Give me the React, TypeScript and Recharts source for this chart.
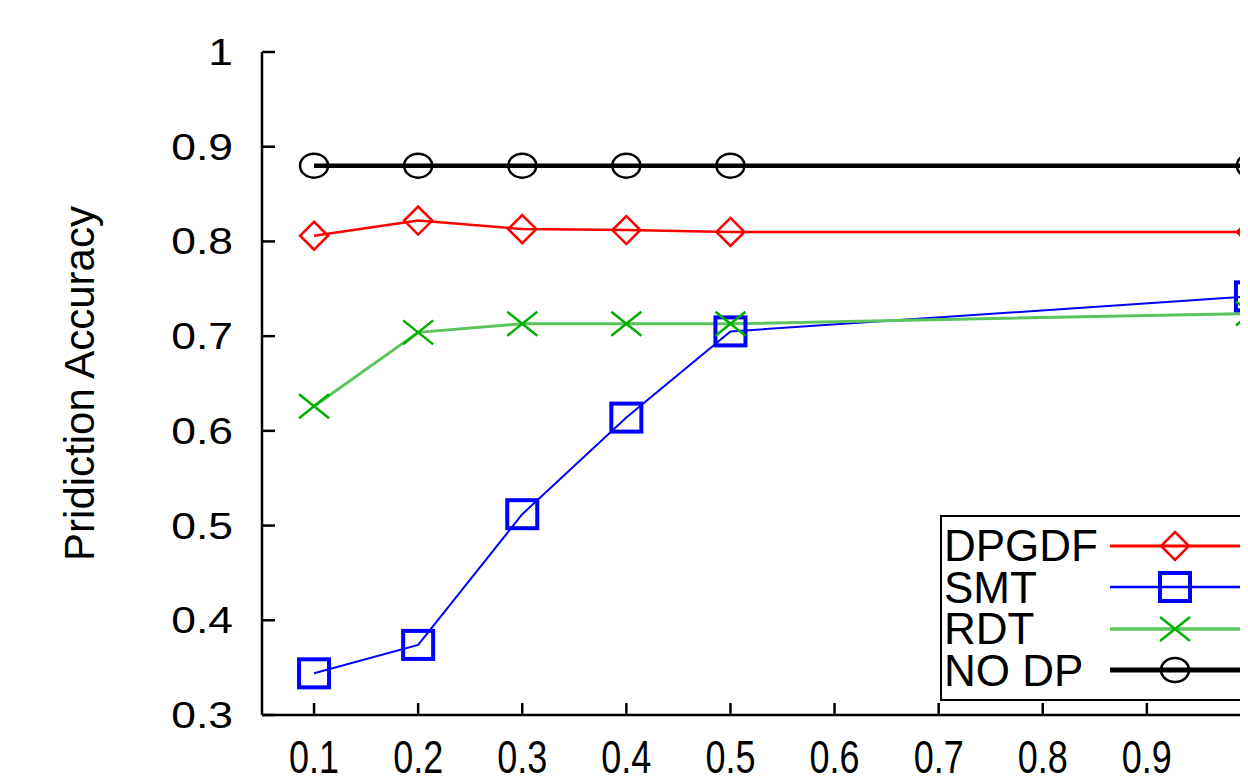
import React from 'react';
import { LineChart, Line, XAxis, YAxis, Legend } from 'recharts';

// sampling ratio on the x axis (no runs between 0.5 and 1)
const ratios = [0.1, 0.2, 0.3, 0.4, 0.5, 1.0];

// prediction accuracy per method
const dpgdf = [0.806, 0.822, 0.813, 0.812, 0.81, 0.81];
const smt = [0.344, 0.374, 0.512, 0.614, 0.705, 0.742];
const rdt = [0.626, 0.704, 0.713, 0.713, 0.713, 0.724];
const noDp = [0.88, 0.88, 0.88, 0.88, 0.88, 0.88];

const xTicks = [0.1, 0.2, 0.3, 0.4, 0.5, 0.6, 0.7, 0.8, 0.9, 1];
const yTicks = [0.3, 0.4, 0.5, 0.6, 0.7, 0.8, 0.9, 1];

const data = ratios.map((x, i) => ({
  x,
  dpgdf: dpgdf[i],
  smt: smt[i],
  rdt: rdt[i],
  noDp: noDp[i],
}));

const FONT = '"Liberation Sans", Arial, sans-serif';

const Diamond = ({ cx, cy, color }: any) => (
  <polygon
    points={`${cx},${cy - 14} ${cx + 14},${cy} ${cx},${cy + 14} ${cx - 14},${cy}`}
    fill="none"
    stroke={color}
    strokeWidth={2.5}
  />
);
const Square = ({ cx, cy, color }: any) => (
  <rect x={cx - 15} y={cy - 14} width={30} height={28} fill="none" stroke={color} strokeWidth={4} />
);
const Cross = ({ cx, cy, color }: any) => (
  <g stroke={color} strokeWidth={2.5}>
    <line x1={cx - 15} y1={cy - 12} x2={cx + 15} y2={cy + 12} />
    <line x1={cx - 15} y1={cy + 12} x2={cx + 15} y2={cy - 12} />
  </g>
);
const Circle = ({ cx, cy, color }: any) => (
  <ellipse cx={cx} cy={cy} rx={14} ry={12} fill="none" stroke={color} strokeWidth={2.5} />
);

const SERIES = [
  { key: 'dpgdf', name: 'DPGDF', color: '#ff0000', line: '#ff0000', width: 2.5, Mark: Diamond },
  { key: 'smt', name: 'SMT', color: '#0000ff', line: '#0000ff', width: 2, Mark: Square },
  { key: 'rdt', name: 'RDT', color: '#00b000', line: '#5cc45c', width: 3, Mark: Cross },
  { key: 'noDp', name: 'NO DP', color: '#000000', line: '#000000', width: 4.5, Mark: Circle },
];

const YTick = ({ x, y, payload }: any) => (
  <g>
    <text
      transform={`translate(${x},${y}) scale(1.2,1)`}
      textAnchor="end"
      dy="0.35em"
      fontSize={37}
      fontFamily={FONT}
      fill="#000"
    >
      {payload.value}
    </text>
    <line x1={x + 29} x2={x + 42} y1={y} y2={y} stroke="#000" strokeWidth={2.5} />
  </g>
);

const XTick = ({ x, y, payload }: any) => (
  <g>
    <text
      transform={`translate(${x},${y}) scale(1,1.3)`}
      textAnchor="middle"
      dy="0.35em"
      fontSize={36}
      fontFamily={FONT}
      fill="#000"
    >
      {payload.value}
    </text>
    <line x1={x} x2={x} y1={y - 42} y2={y - 54} stroke="#000" strokeWidth={2.5} />
  </g>
);

const TopTick = ({ x, y }: any) => (
  <line x1={x} x2={x} y1={y} y2={y + 12} stroke="#000" strokeWidth={2.5} />
);

const RightTick = ({ x, y }: any) => (
  <line x1={x} x2={x - 12} y1={y} y2={y} stroke="#000" strokeWidth={2.5} />
);

const AxisTitle = ({ viewBox }: any) => {
  const cx = viewBox.x + 71;
  const cy = viewBox.y + viewBox.height / 2;
  return (
    <text
      transform={`translate(${cx},${cy}) rotate(-90)`}
      textAnchor="middle"
      dy="0.35em"
      fontSize={42}
      fontFamily={FONT}
      fill="#000"
    >
      Pridiction Accuracy
    </text>
  );
};

const LegendBox = () => (
  <div
    style={{
      border: '2.5px solid #000',
      background: '#fff',
      padding: '8px 0 8px 2px',
      width: 420,
      fontFamily: FONT,
      fontSize: 44,
      color: '#000',
    }}
  >
    {SERIES.map((s) => (
      <div key={s.key} style={{ display: 'flex', alignItems: 'center', height: 41.5 }}>
        <span style={{ width: 166, lineHeight: '41.5px' }}>{s.name}</span>
        <svg width={140} height={40}>
          <line x1={0} x2={140} y1={20} y2={20} stroke={s.line} strokeWidth={s.width + 0.5} />
          <s.Mark cx={65} cy={20} color={s.color} />
        </svg>
      </div>
    ))}
  </div>
);

export default function App() {
  return (
    <div style={{ width: 1240, height: 776, marginBottom: -8, overflow: 'hidden' }}>
      <LineChart width={1320} height={776} data={data} margin={{ top: 44, right: 0, bottom: 8, left: 0 }}>
        <XAxis
          dataKey="x"
          type="number"
          domain={[0.05, 1.05]}
          ticks={xTicks}
          height={61}
          tickSize={0}
          tickMargin={42}
          tick={<XTick />}
          tickLine={false}
          axisLine={{ stroke: '#000', strokeWidth: 2.5 }}
          interval={0}
        />
        <XAxis
          xAxisId="top"
          orientation="top"
          dataKey="x"
          type="number"
          domain={[0.05, 1.05]}
          ticks={xTicks}
          height={0}
          tickSize={0}
          tickMargin={0}
          tick={<TopTick />}
          tickLine={false}
          axisLine={{ stroke: '#000', strokeWidth: 2.5 }}
          interval={0}
        />
        <YAxis
          type="number"
          domain={[0.3, 1]}
          ticks={yTicks}
          width={254}
          tickSize={0}
          tickMargin={29}
          tick={<YTick />}
          tickLine={false}
          axisLine={{ stroke: '#000', strokeWidth: 2.5 }}
          interval={0}
          label={<AxisTitle />}
        />
        <YAxis
          yAxisId="right"
          orientation="right"
          type="number"
          domain={[0.3, 1]}
          ticks={yTicks}
          width={25}
          tickSize={0}
          tickMargin={0}
          tick={<RightTick />}
          tickLine={false}
          axisLine={{ stroke: '#000', strokeWidth: 2.5 }}
          interval={0}
        />
        {SERIES.map((s) => (
          <Line
            key={s.key}
            dataKey={s.key}
            name={s.name}
            stroke={s.line}
            strokeWidth={s.width}
            isAnimationActive={false}
            dot={(p: any) => <s.Mark key={`${s.key}-${p.index}`} cx={p.cx} cy={p.cy} color={s.color} />}
            activeDot={false}
          />
        ))}
        <Legend
          layout="vertical"
          align="center"
          verticalAlign="middle"
          wrapperStyle={{ left: 932, top: 507, width: 'auto' }}
          content={<LegendBox />}
        />
      </LineChart>
    </div>
  );
}
